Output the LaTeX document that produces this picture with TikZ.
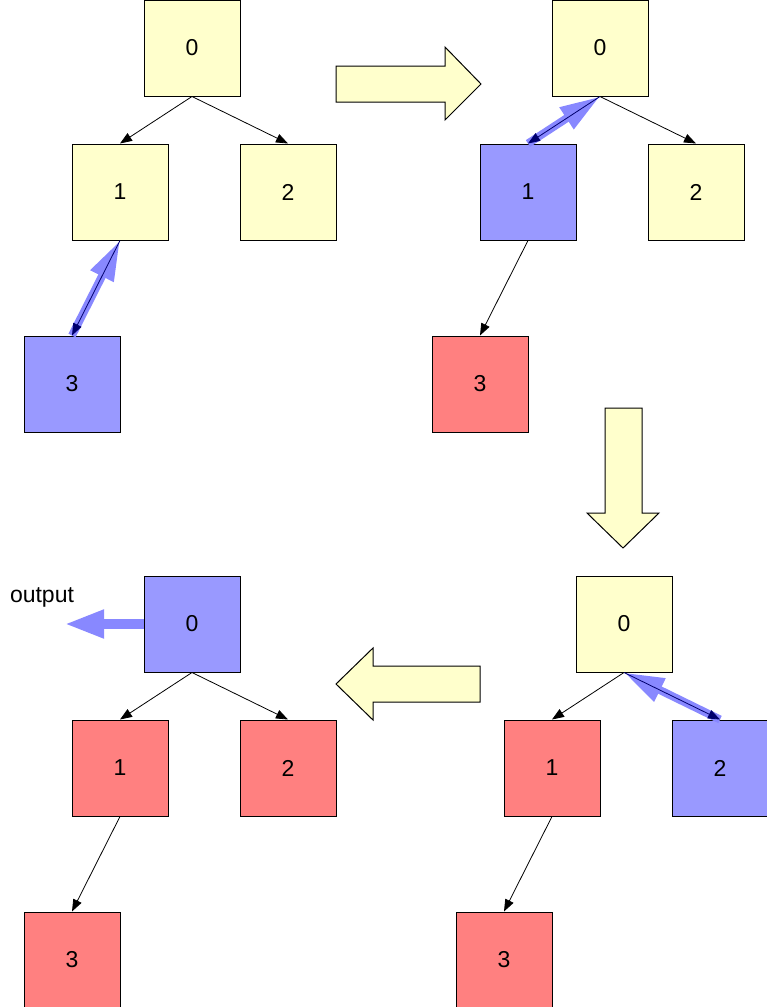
\documentclass[tikz,border=0pt]{standalone}
\usepackage{fontspec}
\setmainfont{Liberation Sans}
\usetikzlibrary{arrows.meta}
\definecolor{yel}{HTML}{FFFFCC}
\definecolor{blu}{HTML}{9999FF}
\definecolor{rd}{HTML}{FF8080}
\definecolor{hlc}{RGB}{136,136,255}
\definecolor{navyc}{RGB}{0,0,110}
\begin{document}
\begin{tikzpicture}[x=1pt,y=-1pt,
  font=\fontsize{23}{28}\selectfont,
  box/.style={draw=black, line width=1pt, minimum size=96pt, inner sep=0pt},
  ybox/.style={box, fill=yel},
  bbox/.style={box, fill=blu},
  rbox/.style={box, fill=rd},
  edge/.style={draw=black, line width=0.8pt, -{Triangle[length=12pt,width=9pt]}},
  hedge/.style={draw=navyc, line width=0.8pt, -{Triangle[length=12pt,width=9pt]}},
  hl/.style={draw=hlc, line width=8pt, -{Triangle[length=40pt,width=24pt]}},
  bigarrow/.style={draw=black, line width=1pt, fill=yel, line join=miter}]
\useasboundingbox (0,0) rectangle (767,1007);

% top-left panel
\node[ybox] (a0) at (192,48) {0};
\node[ybox] (a1) at (120,192) {1};
\node[ybox] (a2) at (288,192) {2};
\node[bbox] (a3) at (72,384) {3};
\draw[edge] (a0.south) -- (a1.north);
\draw[edge] (a0.south) -- (a2.north);
\draw[hl] (a3.north) -- (a1.south);
\draw[hedge] (a1.south) -- (a3.north);

% top-right panel
\node[ybox] (b0) at (600,48) {0};
\node[bbox] (b1) at (528,192) {1};
\node[ybox] (b2) at (696,192) {2};
\node[rbox] (b3) at (480,384) {3};
\draw[edge] (b0.south) -- (b2.north);
\draw[edge] (b1.south) -- (b3.north);
\draw[hl] (b1.north) -- (b0.south);
\draw[hedge] (b0.south) -- (b1.north);

% bottom-right panel
\node[ybox] (c0) at (624,624) {0};
\node[rbox] (c1) at (552,768) {1};
\node[bbox] (c2) at (720,768) {2};
\node[rbox] (c3) at (504,960) {3};
\draw[edge] (c0.south) -- (c1.north);
\draw[edge] (c1.south) -- (c3.north);
\draw[hl] (c2.north) -- (c0.south);
\draw[hedge] (c0.south) -- (c2.north);

% bottom-left panel
\node[bbox] (d0) at (192,624) {0};
\node[rbox] (d1) at (120,768) {1};
\node[rbox] (d2) at (288,768) {2};
\node[rbox] (d3) at (72,960) {3};
\draw[edge] (d0.south) -- (d1.north);
\draw[edge] (d0.south) -- (d2.north);
\draw[edge] (d1.south) -- (d3.north);
\coordinate (out) at (64,624);
\draw[draw=hlc, line width=10pt, -{Triangle[length=40pt,width=26pt]}] (d0.west) -- (out);
\node (outlbl) at (42,597) {output};

% big transition arrows
\draw[bigarrow] (336,66) -- (445,66) -- (445,47) -- (481,84) -- (445,120) -- (445,102) -- (336,102) -- cycle;
\draw[bigarrow] (605,408) -- (642,408) -- (642,513) -- (659,513) -- (623,548) -- (587,513) -- (605,513) -- cycle;
\draw[bigarrow] (480,666) -- (373,666) -- (373,648) -- (336,684) -- (373,720) -- (373,702) -- (480,702) -- cycle;
\end{tikzpicture}
\end{document}
